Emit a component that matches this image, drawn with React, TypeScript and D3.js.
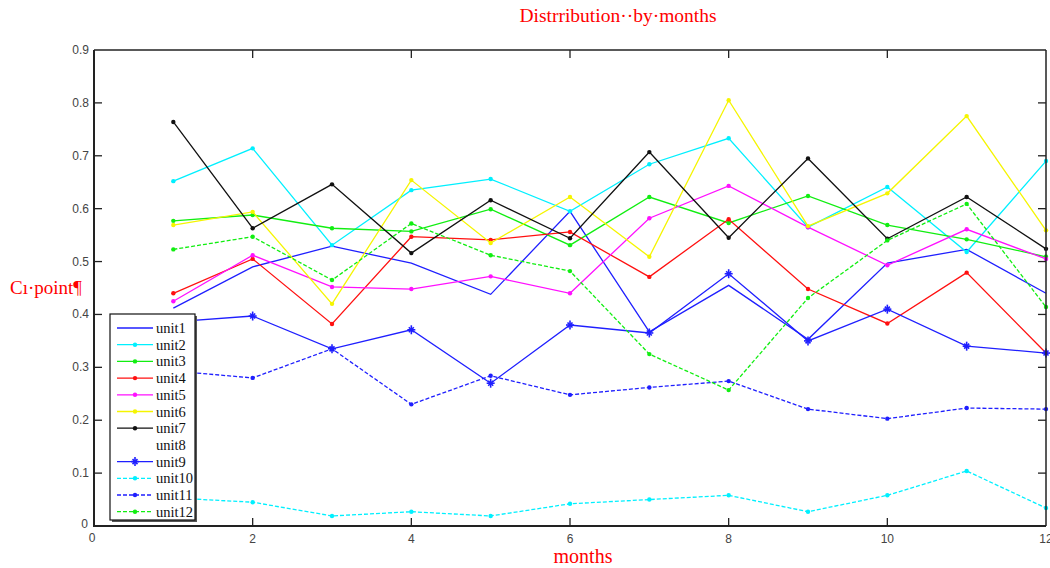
import React from "react";
import * as d3 from "d3";

const months = [1, 2, 3, 4, 5, 6, 7, 8, 9, 10, 11, 12];

const unit1 = [0.412, 0.49, 0.529, 0.497, 0.438, 0.595, 0.367, 0.455, 0.353, 0.497, 0.523, 0.44];
const unit2 = [0.652, 0.714, 0.531, 0.635, 0.656, 0.595, 0.684, 0.733, 0.565, 0.641, 0.518, 0.69];
const unit3 = [0.577, 0.588, 0.563, 0.557, 0.599, 0.531, 0.622, 0.573, 0.624, 0.569, 0.542, 0.509];
const unit4 = [0.44, 0.505, 0.382, 0.547, 0.541, 0.556, 0.471, 0.58, 0.448, 0.383, 0.479, 0.327];
const unit5 = [0.425, 0.512, 0.452, 0.448, 0.472, 0.44, 0.582, 0.643, 0.565, 0.493, 0.561, 0.505];
const unit6 = [0.569, 0.594, 0.42, 0.654, 0.535, 0.622, 0.509, 0.805, 0.567, 0.629, 0.775, 0.559];
const unit7 = [0.764, 0.563, 0.646, 0.516, 0.616, 0.544, 0.707, 0.545, 0.695, 0.543, 0.622, 0.524];
const unit8: number[] = [];
const unit9 = [0.386, 0.397, 0.335, 0.371, 0.27, 0.38, 0.365, 0.477, 0.35, 0.41, 0.34, 0.327];
const unit10 = [0.053, 0.045, 0.019, 0.027, 0.019, 0.042, 0.05, 0.058, 0.027, 0.058, 0.104, 0.034];
const unit11 = [0.293, 0.28, 0.335, 0.23, 0.284, 0.248, 0.262, 0.274, 0.221, 0.203, 0.223, 0.221];
const unit12 = [0.523, 0.547, 0.465, 0.572, 0.512, 0.482, 0.325, 0.257, 0.431, 0.54, 0.609, 0.414];

const xTicks = [0, 2, 4, 6, 8, 10, 12];
const yTicks = [0, 0.1, 0.2, 0.3, 0.4, 0.5, 0.6, 0.7, 0.8, 0.9];

type Series = { name: string; values: number[]; color: string; dash?: string; marker: "none" | "dot" | "star" };

const series: Series[] = [
  { name: "unit1", values: unit1, color: "#1f1fff", marker: "none" },
  { name: "unit2", values: unit2, color: "#00f0ff", marker: "dot" },
  { name: "unit3", values: unit3, color: "#11ee11", marker: "dot" },
  { name: "unit4", values: unit4, color: "#ff1010", marker: "dot" },
  { name: "unit5", values: unit5, color: "#ff10ff", marker: "dot" },
  { name: "unit6", values: unit6, color: "#f5f500", marker: "dot" },
  { name: "unit7", values: unit7, color: "#111111", marker: "dot" },
  { name: "unit8", values: unit8, color: "none", marker: "none" },
  { name: "unit9", values: unit9, color: "#1f1fff", marker: "star" },
  { name: "unit10", values: unit10, color: "#00f0ff", dash: "4,2", marker: "dot" },
  { name: "unit11", values: unit11, color: "#1f1fff", dash: "4,2", marker: "dot" },
  { name: "unit12", values: unit12, color: "#11ee11", dash: "4,2", marker: "dot" },
];

const W = 1050;
const H = 568;
const plot = { left: 94, right: 1046, top: 50, bottom: 526 };
const serif = "'Liberation Serif', 'DejaVu Serif', serif";

const x = d3.scaleLinear().domain([0, 12]).range([plot.left, plot.right]);
const y = d3.scaleLinear().domain([0, 0.9]).range([plot.bottom, plot.top]);

function Marker({ kind, cx, cy, color }: { kind: string; cx: number; cy: number; color: string }) {
  if (kind === "dot") return <circle cx={cx} cy={cy} r={2.2} fill={color} />;
  if (kind === "star") {
    return (
      <g stroke={color} strokeWidth={1.6}>
        <line x1={cx - 4} y1={cy} x2={cx + 4} y2={cy} />
        <line x1={cx} y1={cy - 4.5} x2={cx} y2={cy + 4.5} />
        <line x1={cx - 2.5} y1={cy - 2.5} x2={cx + 2.5} y2={cy + 2.5} />
        <line x1={cx - 2.5} y1={cy + 2.5} x2={cx + 2.5} y2={cy - 2.5} />
      </g>
    );
  }
  return null;
}

export default function App() {
  const line = d3
    .line<number>()
    .x((_, i) => x(months[i]))
    .y((d) => y(d));

  const legend = { x: 110, y: 314, w: 85, h: 206, first: 328, step: 16.7 };

  return (
    <svg
      width={W}
      height={H}
      style={{ position: "absolute", left: 0, top: 0, background: "#fff" }}
      fontFamily={serif}
    >
      <text x={618} y={22} textAnchor="middle" fill="#ff0000" fontSize={19.5} fontFamily={serif}>
        Distrribution··by·months
      </text>
      <text x={10} y={294} fill="#ff0000" fontSize={19} fontFamily={serif}>
        Cı·point¶
      </text>
      <text x={583} y={563} textAnchor="middle" fill="#ff0000" fontSize={20} fontFamily={serif}>
        months
      </text>

      {/* series */}
      {series
        .filter((s) => s.values.length > 0)
        .map((s) => (
          <g key={s.name}>
            <path d={line(s.values) || ""} fill="none" stroke={s.color} strokeWidth={1.3} strokeDasharray={s.dash} />
            {s.values.map((v, i) => (
              <Marker key={i} kind={s.marker} cx={x(months[i])} cy={y(v)} color={s.color} />
            ))}
          </g>
        ))}

      {/* frame */}
      <g stroke="#222" fill="none">
        <line x1={plot.left} y1={plot.top} x2={plot.right} y2={plot.top} strokeWidth={1.5} />
        <line x1={plot.right} y1={plot.top} x2={plot.right} y2={plot.bottom} strokeWidth={1.5} />
        <line x1={plot.left} y1={plot.top} x2={plot.left} y2={plot.bottom + 1} strokeWidth={2} />
        <line x1={plot.left} y1={plot.bottom} x2={plot.right} y2={plot.bottom} strokeWidth={2} />
      </g>

      {/* ticks */}
      <g stroke="#222" strokeWidth={1.3}>
        {xTicks.slice(1, -1).map((t) => (
          <g key={t}>
            <line x1={x(t)} y1={plot.bottom} x2={x(t)} y2={plot.bottom - 8} />
            <line x1={x(t)} y1={plot.top} x2={x(t)} y2={plot.top + 8} />
          </g>
        ))}
        {yTicks.slice(1, -1).map((t) => (
          <g key={t}>
            <line x1={plot.left} y1={y(t)} x2={plot.left + 8} y2={y(t)} />
            <line x1={plot.right} y1={y(t)} x2={plot.right - 8} y2={y(t)} />
          </g>
        ))}
      </g>
      <g fill="#444" fontFamily="'Liberation Sans Narrow', 'Liberation Sans', Arial, sans-serif" fontSize={12}>
        {xTicks.map((t) => (
          <text key={t} x={t === 0 ? x(t) - 2 : x(t)} y={t === 0 ? 542 : 543} textAnchor="middle">
            {t}
          </text>
        ))}
        {yTicks.map((t) => (
          <text key={t} x={t === 0 ? 88 : 89} y={t === 0 ? y(t) + 2 : y(t) + 4} textAnchor="end">
            {t === 0 ? "0" : t.toFixed(1)}
          </text>
        ))}
      </g>

      {/* legend */}
      <rect x={legend.x + 2} y={legend.y + 2} width={legend.w} height={legend.h} fill="#555" />
      <rect x={legend.x} y={legend.y} width={legend.w} height={legend.h} fill="#fff" stroke="#111" strokeWidth={1.2} />
      {series.map((s, i) => {
        const ly = legend.first + i * legend.step;
        return (
          <g key={s.name}>
            {s.color !== "none" && (
              <>
                <line x1={117} y1={ly} x2={153} y2={ly} stroke={s.color} strokeWidth={1.3} strokeDasharray={s.dash} />
                <Marker kind={s.marker} cx={135} cy={ly} color={s.color} />
              </>
            )}
            <text x={156} y={ly + 5} fontSize={14.5} fill="#111" fontFamily={serif}>
              {s.name}
            </text>
          </g>
        );
      })}
    </svg>
  );
}
